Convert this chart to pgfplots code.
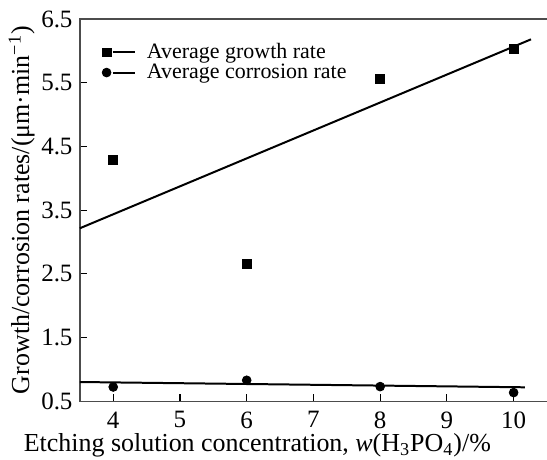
\documentclass[border=0pt]{standalone}
\usepackage{fontspec}
\setmainfont{Liberation Serif}
\usepackage{pgfplots}
\pgfplotsset{compat=1.18}

\begin{document}
\fontsize{12}{14}\selectfont
\begin{tikzpicture}
\begin{axis}[
  scale only axis, width=234pt, height=191.5pt,
  xmin=3.5, xmax=10.5, ymin=0.5, ymax=6.5,
  xtick={4,5,...,10}, ytick={0.5,1.5,...,6.5},
  xticklabels={4,5,6,7,8,9,10},
  yticklabels={0.5,1.5,2.5,3.5,4.5,5.5,6.5},
  xtick pos=lower, ytick pos=left,
  tick align=inside, major tick length=3.5pt,
  tick style={black, line width=0.6pt},
  axis line style={draw=none},
  clip=false,
  tick label style={font=\fontsize{12.5}{14}\selectfont, inner sep=0pt},
  yticklabel style={anchor=east, xshift=-3.5pt},
  xticklabel style={anchor=north, yshift=-5pt},
  xlabel={Etching solution concentration, \textit{w}(H\textsubscript{3}PO\textsubscript{4})/\%},
  ylabel={Growth/corrosion rates/(μm·min\textsuperscript{−1})},
  label style={font=\fontsize{13}{15}\selectfont, inner sep=0pt},
  xlabel style={at={(axis description cs:0.38,-0.132)}, anchor=base},
  ylabel style={at={(axis description cs:-0.1246,0.5)}, anchor=center},
  legend cell align=left,
  legend style={draw=none, fill=none, at={(axis description cs:0.047,0.938)},
    anchor=north west, inner sep=0pt, row sep=0.8pt,
    font=\fontsize{11}{13}\selectfont,
    nodes={inner sep=0pt}},
  legend image code/.code={
    \draw[#1] plot coordinates {(0pt,0pt)};
    \draw[black, line width=1pt] (3.2pt,0pt) -- (14.2pt,0pt);
    \path (20pt,0pt);
  },
]
\coordinate (sw) at (rel axis cs:0,0);
\coordinate (ne) at (rel axis cs:1,1);
\draw[black!70, line width=0.7pt] (rel axis cs:1,1) -- (rel axis cs:0,1) -- (rel axis cs:0,0) -- (rel axis cs:1,0);

\addplot[only marks, mark=square*, mark size=2.2pt, black]
  coordinates {(4,4.29) (6,2.65) (8,5.555) (10,6.025)};
\addlegendentry{Average growth rate}
\addplot[only marks, mark=*, mark size=2.2pt, black]
  coordinates {(4,0.724) (6,0.829) (8,0.730) (10,0.636)};
\addlegendentry{Average corrosion rate}

\addplot[black, line width=1pt, forget plot]
  coordinates {(3.5,3.215) (10.26,6.18)};
\addplot[black, line width=1pt, forget plot]
  coordinates {(3.5,0.802) (10.17,0.719)};
\end{axis}
\pgfresetboundingbox
\path[use as bounding box] ([shift={(-40pt,-29pt)}]sw) rectangle ([shift={(0pt,9.5pt)}]ne);
\end{tikzpicture}
\end{document}
